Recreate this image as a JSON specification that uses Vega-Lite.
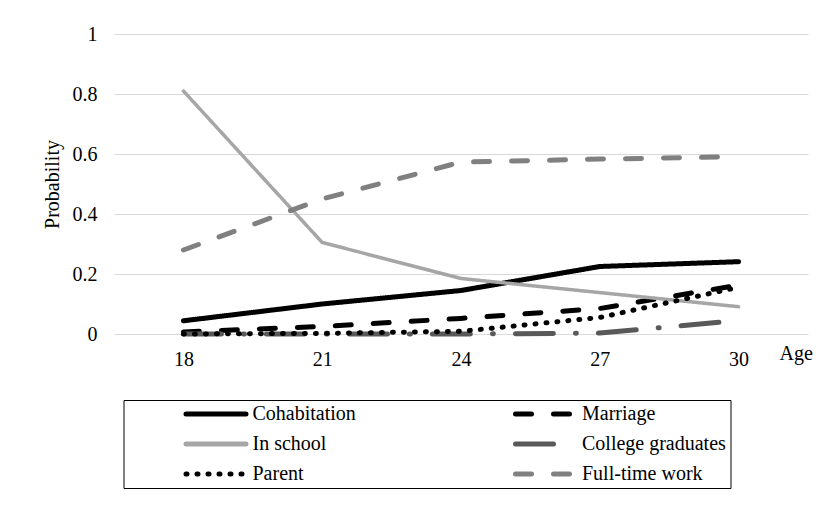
{
  "$schema": "https://vega.github.io/schema/vega-lite/v6.json",
  "autosize": {"type": "none"},
  "width": 694,
  "height": 300,
  "padding": {"left": 114, "top": 34, "right": 8, "bottom": 181},
  "background": "white",
  "config": {
    "font": "Liberation Serif",
    "view": {"stroke": null},
    "axis": {"labelFont": "Liberation Serif", "titleFont": "Liberation Serif", "labelColor": "black", "titleColor": "black", "titleFontWeight": "normal"},
    "legend": {"labelFont": "Liberation Serif"}
  },
  "data": {
    "values": [
      {"series": "Cohabitation", "age": 18, "p": 0.044},
      {"series": "Cohabitation", "age": 21, "p": 0.1},
      {"series": "Cohabitation", "age": 24, "p": 0.145},
      {"series": "Cohabitation", "age": 27, "p": 0.225},
      {"series": "Cohabitation", "age": 30, "p": 0.241},
      {"series": "Marriage", "age": 18, "p": 0.007},
      {"series": "Marriage", "age": 21, "p": 0.025},
      {"series": "Marriage", "age": 24, "p": 0.052},
      {"series": "Marriage", "age": 27, "p": 0.085},
      {"series": "Marriage", "age": 30, "p": 0.163},
      {"series": "In school", "age": 18, "p": 0.81},
      {"series": "In school", "age": 21, "p": 0.305},
      {"series": "In school", "age": 24, "p": 0.185},
      {"series": "In school", "age": 27, "p": 0.138},
      {"series": "In school", "age": 30, "p": 0.091},
      {"series": "College graduates", "age": 18, "p": 0.0},
      {"series": "College graduates", "age": 21, "p": 0.0},
      {"series": "College graduates", "age": 24, "p": 0.0},
      {"series": "College graduates", "age": 27, "p": 0.003},
      {"series": "College graduates", "age": 30, "p": 0.045},
      {"series": "Parent", "age": 18, "p": 0.0},
      {"series": "Parent", "age": 21, "p": 0.002},
      {"series": "Parent", "age": 24, "p": 0.009},
      {"series": "Parent", "age": 27, "p": 0.055},
      {"series": "Parent", "age": 30, "p": 0.156},
      {"series": "Full-time work", "age": 18, "p": 0.28},
      {"series": "Full-time work", "age": 21, "p": 0.45},
      {"series": "Full-time work", "age": 24, "p": 0.573},
      {"series": "Full-time work", "age": 27, "p": 0.583},
      {"series": "Full-time work", "age": 30, "p": 0.591}
    ]
  },
  "mark": {"type": "line", "strokeCap": "round", "strokeJoin": "round"},
  "encoding": {
    "x": {
      "field": "age", "type": "quantitative",
      "scale": {"domain": [16.5, 31.5], "nice": false, "zero": false},
      "axis": {
        "values": [18, 21, 24, 27, 30], "grid": false, "domain": false, "ticks": false, "tickSize": 0,
        "labelFontSize": 20, "labelPadding": 15, "labelFlush": false,
        "title": "Age", "titleFontSize": 20, "titleAlign": "left", "titleBaseline": "alphabetic",
        "titleX": 665, "titleY": 25, "titleAnchor": "start"
      }
    },
    "y": {
      "field": "p", "type": "quantitative",
      "scale": {"domain": [0, 1], "nice": false},
      "axis": {
        "values": [0, 0.2, 0.4, 0.6, 0.8, 1], "format": "~g", "grid": true, "gridColor": "#d9d9d9", "gridWidth": 1.2,
        "domain": false, "ticks": false, "tickSize": 0, "labelFontSize": 20, "labelPadding": 17,
        "title": "Probability", "titleFontSize": 20, "titlePadding": 10
      }
    },
    "color": {
      "field": "series", "type": "nominal",
      "scale": {
        "domain": ["Cohabitation", "In school", "Parent", "Marriage", "College graduates", "Full-time work"],
        "range": ["#000000", "#a6a6a6", "#000000", "#000000", "#595959", "#808080"]
      },
      "legend": {
        "title": null, "orient": "none", "legendX": 9.5, "legendY": 366,
        "columns": 2, "columnPadding": 100.5, "rowPadding": 10,
        "symbolType": "stroke", "symbolSize": 3600, "clipHeight": 20, "symbolStrokeWidth": 5,
        "symbolOffset": 56, "labelOffset": 4,
        "labelFontSize": 20, "labelColor": "black", "labelLimit": 300,
        "padding": 4, "strokeColor": "#000000",
        "encode": {"symbols": {"update": {"strokeCap": {"value": "round"}}}}
      }
    },
    "strokeDash": {
      "field": "series", "type": "nominal",
      "scale": {
        "domain": ["Cohabitation", "In school", "Parent", "Marriage", "College graduates", "Full-time work"],
        "range": [[1, 0], [1, 0], [1, 10], [16, 22], [38, 22, 1, 22], [16, 22]]
      }
    },
    "strokeWidth": {
      "condition": {"test": "datum.series === 'In school'", "value": 3.5},
      "value": 5
    }
  }
}
